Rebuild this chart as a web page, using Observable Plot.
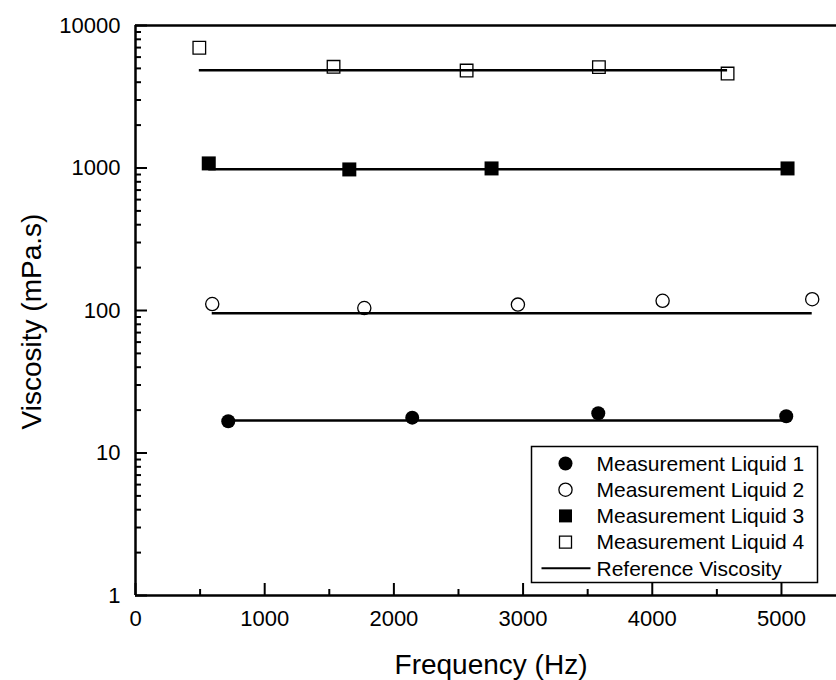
<!DOCTYPE html>
<html>
<head>
<meta charset="utf-8">
<script src="https://cdn.jsdelivr.net/npm/d3@7"></script>
<script src="https://cdn.jsdelivr.net/npm/@observablehq/plot@0.6"></script>
<style>
  html, body { margin: 0; padding: 0; background: #fff; overflow: hidden; }
  #wrap { position: relative; width: 836px; height: 680px; font-family: "Liberation Sans", Arial, sans-serif; }
  #legend { position: absolute; left: 0; top: 0; pointer-events: none; }
</style>
</head>
<body>
<div id="wrap"></div>
<script>
// ---- data ----
const liquidNames = ["Measurement Liquid 1", "Measurement Liquid 2", "Measurement Liquid 3", "Measurement Liquid 4"];
const refLabel = "Reference Viscosity";
const freq1 = [718, 2142, 3582, 5037];
const visc1 = [16.7, 17.7, 19.0, 18.1];
const freq2 = [594, 1771, 2960, 4080, 5238];
const visc2 = [111, 104, 110, 117, 120];
const freq3 = [567, 1655, 2756, 5047];
const visc3 = [1077, 977, 993, 993];
const freq4 = [494, 1533, 2563, 3587, 4583];
const visc4 = [6980, 5130, 4830, 5100, 4600];
const refVisc = [16.9, 95.7, 979, 4860];
const xTicks = [0, 1000, 2000, 3000, 4000, 5000];
const xMinorTicks = [500, 1500, 2500, 3500, 4500];
const yTicks = [1, 10, 100, 1000, 10000];
const yMinorTicks = [2,3,4,5,6,7,8,9,20,30,40,50,60,70,80,90,200,300,400,500,600,700,800,900,2000,3000,4000,5000,6000,7000,8000,9000];
const xTitle = "Frequency (Hz)";
const yTitle = "Viscosity (mPa.s)";

// ---- build tables ----
const freqs = [freq1, freq2, freq3, freq4];
const viscs = [visc1, visc2, visc3, visc4];
const points = [];
freqs.forEach((fs, i) => fs.forEach((f, j) => points.push({series: i, f, v: viscs[i][j]})));
const refs = refVisc.map((v, i) => ({series: i, v, f1: d3.min(freqs[i]), f2: d3.max(freqs[i])}));

const W = 836, H = 680, mL = 135, mR = 0, mT = 25, mB = 85;
const plotW = W - mL - mR, plotH = H - mT - mB;
const font = "Liberation Sans, Arial, sans-serif";

const chart = Plot.plot({
  width: W, height: H,
  marginLeft: mL, marginRight: mR, marginTop: mT, marginBottom: mB,
  style: {fontFamily: font, background: "#fff", color: "#000"},
  x: {domain: [0, 5426], axis: null},
  y: {type: "log", domain: [1, 10000], axis: null},
  marks: [
    // tick labels
    Plot.axisX({ticks: xTicks, tickSize: 0, tickPadding: 15, tickFormat: d3.format("d"), fontSize: 22, label: null}),
    Plot.axisY({ticks: yTicks, tickSize: 0, tickPadding: 15, tickFormat: d3.format("d"), fontSize: 22, label: null}),
    // inward ticks
    Plot.tickY(yTicks, {y: d => d, insetRight: plotW - 12, strokeWidth: 2, stroke: "#000"}),
    Plot.tickY(yMinorTicks, {y: d => d, insetRight: plotW - 6, strokeWidth: 2, stroke: "#000"}),
    Plot.tickX(xTicks, {x: d => d, insetTop: plotH - 12, strokeWidth: 2, stroke: "#000"}),
    Plot.tickX(xMinorTicks, {x: d => d, insetTop: plotH - 6, strokeWidth: 2, stroke: "#000"}),
    // frame (left, top, bottom)
    Plot.ruleX([0], {strokeWidth: 2.5, stroke: "#000"}),
    Plot.ruleY([1], {strokeWidth: 2.5, stroke: "#000"}),
    Plot.ruleY([10000], {strokeWidth: 2.5, stroke: "#000"}),
    // reference viscosity lines
    Plot.ruleY(refs, {y: "v", x1: "f1", x2: "f2", stroke: "#000", strokeWidth: 2.5}),
    // measurements
    Plot.dot(points.filter(d => d.series === 0), {x: "f", y: "v", r: 7, symbol: "circle", fill: "#000", stroke: "none"}),
    Plot.dot(points.filter(d => d.series === 1), {x: "f", y: "v", r: 6.6, symbol: "circle", fill: "none", stroke: "#000", strokeWidth: 1.3}),
    Plot.dot(points.filter(d => d.series === 2), {x: "f", y: "v", r: 7.9, symbol: "square", fill: "#000", stroke: "none"}),
    Plot.dot(points.filter(d => d.series === 3), {x: "f", y: "v", r: 7.1, symbol: "square", fill: "none", stroke: "#000", strokeWidth: 1.3}),
    // axis titles
    Plot.text([xTitle], {frameAnchor: "bottom", textAnchor: "middle", lineAnchor: "bottom", dx: 5, dy: 78, fontSize: 28, fill: "#000"}),
    Plot.text([yTitle], {frameAnchor: "left", textAnchor: "middle", lineAnchor: "bottom", rotate: -90, dx: -95, dy: 11, fontSize: 28, fill: "#000"})
  ]
});
const wrap = document.getElementById("wrap");
wrap.appendChild(chart);

// ---- legend overlay ----
const legendItems = [
  {label: liquidNames[0], kind: "dot", sym: d3.symbolCircle, size: Math.PI * 49, fill: "#000", stroke: "none"},
  {label: liquidNames[1], kind: "dot", sym: d3.symbolCircle, size: Math.PI * 6.6 * 6.6, fill: "none", stroke: "#000"},
  {label: liquidNames[2], kind: "dot", sym: d3.symbolSquare, size: 13 * 13, fill: "#000", stroke: "none"},
  {label: liquidNames[3], kind: "dot", sym: d3.symbolSquare, size: 12 * 12, fill: "none", stroke: "#000"},
  {label: refLabel, kind: "line"}
];
const svg = d3.select(wrap).append("svg").attr("id", "legend").attr("width", W).attr("height", H);
const bx = 531.5, by = 446.5, bw = 286, bh = 136;
const g = svg.append("g").attr("transform", `translate(${bx},${by})`);
g.append("rect").attr("width", bw).attr("height", bh).attr("fill", "#fff").attr("stroke", "#000").attr("stroke-width", 1.5);
legendItems.forEach((it, i) => {
  const cy = 17 + i * 26.2;
  if (it.kind === "dot") {
    g.append("path").attr("d", d3.symbol(it.sym, it.size)()).attr("transform", `translate(34,${cy})`)
      .attr("fill", it.fill).attr("stroke", it.stroke).attr("stroke-width", 1.3);
  } else {
    g.append("line").attr("x1", 10).attr("x2", 59).attr("y1", cy).attr("y2", cy).attr("stroke", "#000").attr("stroke-width", 2);
  }
  g.append("text").attr("x", 65).attr("y", cy).attr("dy", "0.35em").attr("font-size", 21)
    .attr("font-family", font).attr("fill", "#000").text(it.label);
});
</script>
</body>
</html>
